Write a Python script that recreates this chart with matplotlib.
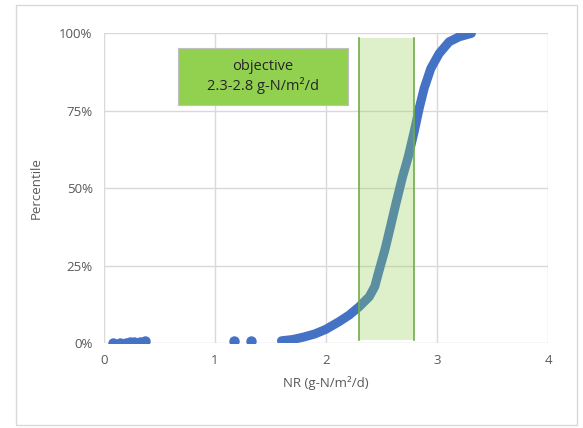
import matplotlib.pyplot as plt
from matplotlib.patches import Rectangle
from matplotlib.ticker import PercentFormatter

# isolated low values
low_nr = [0.08, 0.15, 0.20, 0.24, 0.27, 0.33, 0.37]
low_pct = [0.000, 0.001, 0.002, 0.003, 0.004, 0.005, 0.006]
mid_nr = [1.17, 1.33]
mid_pct = [0.007, 0.008]

# main percentile curve
curve_nr = [1.60, 1.70, 1.80, 1.90, 2.00, 2.12, 2.21, 2.30, 2.39, 2.44, 2.48, 2.53,
            2.56, 2.63, 2.69, 2.74, 2.795, 2.84, 2.885, 2.945, 3.02, 3.11, 3.20, 3.29, 3.31]
curve_pct = [0.008, 0.012, 0.020, 0.030, 0.045, 0.070, 0.091, 0.118, 0.150, 0.183, 0.236, 0.300,
             0.344, 0.450, 0.537, 0.600, 0.683, 0.758, 0.823, 0.887, 0.935, 0.973, 0.989, 0.998, 1.000]

obj_lo, obj_hi = 2.3, 2.79
blue = '#4472C4'
grey = '#595959'

plt.rcParams['font.family'] = ['Open Sans', 'DejaVu Sans']
fig = plt.figure(figsize=(5.83, 4.28), dpi=100)
ax = fig.add_axes([0.178, 0.198, 0.762, 0.724])

ax.plot(low_nr, low_pct, 'o', color=blue, ms=6.5, zorder=3)
ax.plot(mid_nr, mid_pct, 'o', color=blue, ms=6.5, zorder=3)
ax.plot(curve_nr, curve_pct, '-', color=blue, lw=6.5, solid_capstyle='round',
        solid_joinstyle='round', zorder=3)

ax.add_patch(Rectangle((obj_lo, 0.01), obj_hi - obj_lo, 0.975, facecolor='#92D050',
                       alpha=0.3, edgecolor='none', zorder=4))
ax.plot([obj_lo, obj_lo], [0.01, 0.985], color='#70AD47', lw=1.2, zorder=5)
ax.plot([obj_hi, obj_hi], [0.01, 0.985], color='#70AD47', lw=1.2, zorder=5)

ax.add_patch(Rectangle((0.665, 0.77), 1.535, 0.182, facecolor='#92D050',
                       edgecolor='#BFBFBF', lw=0.8, zorder=6))
ax.text(1.43, 0.861, 'objective\n2.3-2.8 g-N/m²/d', ha='center', va='center',
        fontsize=10.5, color='#262626', linespacing=1.3, zorder=7)

ax.set_xlim(0, 4)
ax.set_ylim(0, 1)
ax.set_xticks([0, 1, 2, 3, 4])
ax.set_yticks([0, 0.25, 0.5, 0.75, 1.0])
ax.yaxis.set_major_formatter(PercentFormatter(1.0, decimals=0))
ax.grid(True, color='#D9D9D9', lw=1)
ax.set_axisbelow(True)
for s in ax.spines.values():
    s.set_visible(False)
ax.tick_params(length=0, colors=grey, labelsize=9.5, pad=8)
ax.set_xlabel('NR (g-N/m²/d)', color=grey, fontsize=9.5, labelpad=6)
ax.set_ylabel('Percentile', color=grey, fontsize=9.5, labelpad=12)

fig.patches.append(Rectangle((16 / 583, 1 - 425 / 428), 561 / 583, 420 / 428,
                             transform=fig.transFigure, fill=False,
                             edgecolor='#D9D9D9', lw=1))

fig.savefig('out.png', dpi=100)
